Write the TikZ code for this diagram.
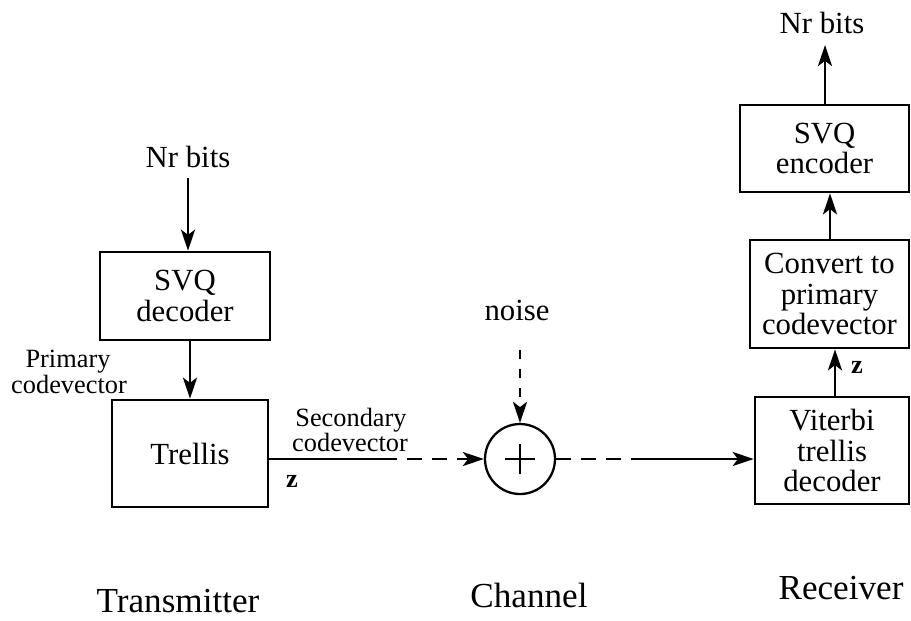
\documentclass[tikz,border=0pt]{standalone}
\usepackage{fontspec}
\setmainfont{Liberation Serif}
\usetikzlibrary{arrows.meta}
\begin{document}
\begin{tikzpicture}[x=0.02cm,y=-0.02cm,
  box/.style={draw,line width=1.5pt,rectangle,align=center,inner sep=0pt,
    font=\fontsize{17.5}{17.5}\selectfont},
  lbl/.style={inner sep=0pt,font=\fontsize{17.5}{17}\selectfont},
  small/.style={inner sep=0pt,align=center,font=\fontsize{15}{15.4}\selectfont},
  big/.style={inner sep=0pt,font=\fontsize{20}{22}\selectfont},
  zlbl/.style={inner sep=0pt,font=\fontsize{15}{15}\selectfont\bfseries},
  arr/.style={line width=1.3pt,-{Stealth[length=12pt,width=8pt,inset=3pt]}},
  ln/.style={line width=1.3pt},
  dsh/.style={line width=1.3pt,dash pattern=on 0.3cm off 0.2cm},
  vdsh/.style={line width=1.3pt,dash pattern=on 0.18cm off 0.2cm}]
\useasboundingbox (0,0) rectangle (911,620);
% transmitter
\node[lbl,anchor=base] (nrin) at (188,167) {Nr bits};
\node[box,minimum width=3.4cm,minimum height=1.76cm] (dec) at (185,296)
  {SVQ\\decoder};
\node[box,minimum width=3.12cm,minimum height=2.14cm] (trel) at (190,453.5)
  {Trellis};
\node[small,anchor=base] (prim1) at (68,367) {Primary};
\node[small,anchor=base] (prim2) at (69,393) {codevector};
\node[small,anchor=base] (sec1) at (351,426) {Secondary};
\node[small,anchor=base] (sec2) at (350,451) {codevector};
\node[zlbl,anchor=base] (zs) at (292,487) {z};
% channel
\node[draw,circle,line width=1.3pt,minimum size=1.4cm,inner sep=0pt] (add) at (520,459) {};
\draw[line width=1.2pt] ([xshift=-0.3cm]add.center) -- ([xshift=0.3cm]add.center)
  ([yshift=-0.3cm]add.center) -- ([yshift=0.3cm]add.center);
\node[lbl,anchor=base] (noise) at (517,320) {noise};
% receiver
\node[box,minimum width=3.08cm,minimum height=2.14cm] (vit) at (832,450.5)
  {Viterbi\\trellis\\decoder};
\node[box,minimum width=3.18cm,minimum height=2.16cm] (conv) at (829.5,294)
  {Convert to\\primary\\codevector};
\node[box,minimum width=3.38cm,minimum height=1.74cm] (enc) at (824.5,148.5)
  {SVQ\\encoder};
\node[lbl,anchor=base] (nrout) at (822,33) {Nr bits};
\node[zlbl,anchor=base] (zr) at (857,373) {z};
% bottom labels
\node[big,anchor=base] (tx) at (178,612) {Transmitter};
\node[big,anchor=base] (ch) at (529,607) {Channel};
\node[big,anchor=base] (rx) at (841,599) {Receiver};
% coordinates
\coordinate (ntop) at (520,350);
\coordinate (s1) at (382,459);
\coordinate (s2) at (633,459);
\coordinate (otop) at (825,45);
% connectors
\draw[arr] ([yshift=-0.2cm]nrin.south) -- (nrin.south |- dec.north);
\draw[arr] (dec.south -| trel) -- (trel.north);
\draw[ln] (trel.east |- add) -- (s1);
\draw[dsh,-{Stealth[length=12pt,width=8pt,inset=3pt]}] (s1) -- (add.west);
\draw[vdsh,-{Stealth[length=12pt,width=8pt,inset=3pt]}] (ntop) -- (add.north);
\draw[dsh] (add.east) -- (s2);
\draw[arr] (s2) -- (vit.west |- add);
\draw[arr] (vit.north -| 835,0) -- (conv.south -| 835,0);
\draw[arr] (conv.north -| 830,0) -- (enc.south -| 830,0);
\draw[arr] (enc.north -| otop) -- (otop);
\end{tikzpicture}
\end{document}
